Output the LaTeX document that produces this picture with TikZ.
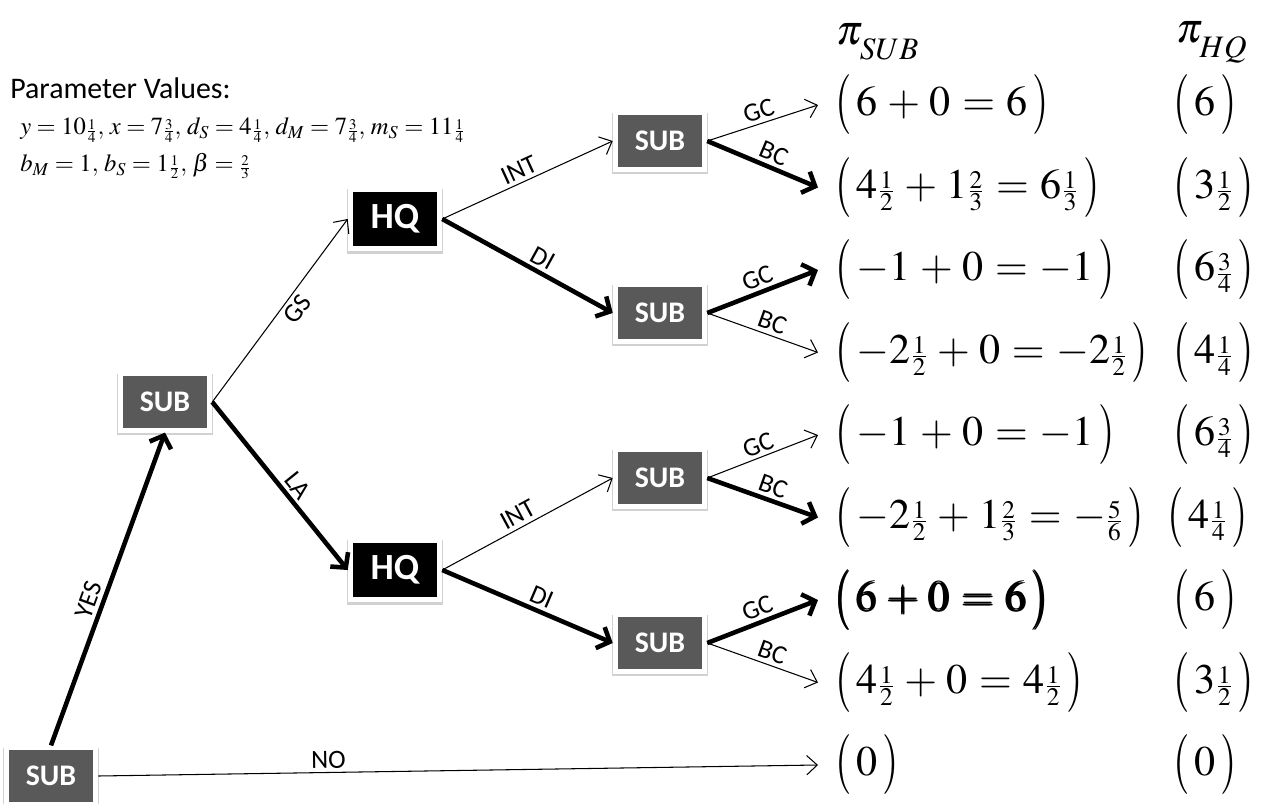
\documentclass[tikz,border=0pt]{standalone}
\usepackage{amsmath}
\usepackage{graphicx}
\usepackage{mathptmx}
\usepackage[no-math]{fontspec}
\newfontfamily\calib{Carlito}
\usetikzlibrary{arrows.meta,shadows}
\definecolor{subgray}{RGB}{89,89,89}
\newcommand{\fr}[2]{\genfrac{}{}{}{3}{#1}{#2}}
\newcommand{\lpar}{\mathopen{\vcenter{\hbox{\scalebox{1}[1.42]{$($}}}}\mkern2mu}
\newcommand{\rpar}{\mkern2mu\mathclose{\vcenter{\hbox{\scalebox{1}[1.42]{$)$}}}}}
\newcommand{\lowsub}[1]{\raisebox{-5pt}{$\scriptstyle #1$}}
\newcommand{\payspacing}{\medmuskip=4mu\relax\thickmuskip=5mu\relax}
\tikzset{
  box/.style={draw=white, line width=2.8pt, minimum width=51pt, minimum height=32pt,
    inner sep=0pt, text=white, font=\calib\bfseries\fontsize{17}{17}\selectfont,
    drop shadow={shadow xshift=0pt, shadow yshift=-1.2pt, shadow scale=1.08, opacity=0.18, fill=black}},
  subbox/.style={box, fill=subgray},
  hqbox/.style={box, fill=black, minimum height=34pt, font=\calib\bfseries\fontsize{21}{21}\selectfont},
  arrthin/.style={line width=0.6pt, -{Straight Barb[length=6pt,width=11pt]}},
  arrbold/.style={line width=2.6pt, -{Straight Barb[length=6pt,width=13pt]}},
  lbl/.style={font=\calib\fontsize{15}{15}\selectfont, sloped, above, inner sep=2pt},
  pay/.style={anchor=west, inner xsep=10pt, inner ysep=2pt,
    font=\fontsize{24}{29}\selectfont, execute at begin node=\payspacing},
  param/.style={anchor=west, inner sep=0pt, font=\fontsize{14}{16}\selectfont},
}
\begin{document}
\begin{tikzpicture}[x=0.02cm, y=-0.02cm]
\useasboundingbox (0,0) rectangle (1274,804);
% header
\node[anchor=west, inner sep=0pt, font=\calib\fontsize{17}{17}\selectfont] (pv) at (10,88) {Parameter Values:};
\node[param] (pl1) at (20,130)
  {$y=10\fr14,\, x=7\fr34,\, d_S=4\fr14,\, d_M=7\fr34,\, m_S=11\fr14$};
\node[param] (pl2) at (20,166)
  {$b_M=1,\, b_S=1\fr12,\, \beta=\fr23$};
\node[inner sep=0pt, font=\fontsize{24}{29}\selectfont] (hs) at (878,42) {$\pi_{\lowsub{SUB}}$};
\node[inner sep=0pt, font=\fontsize{24}{29}\selectfont] (hh) at (1212,42) {$\pi_{\lowsub{HQ}}$};
% decision nodes
\node[subbox] (root) at (51,776) {SUB};
\node[subbox] (sub1) at (165,402) {SUB};
\node[hqbox] (hq1) at (395,219) {HQ};
\node[hqbox] (hq2) at (395,570) {HQ};
\node[subbox] (s1) at (660,141) {SUB};
\node[subbox] (s2) at (660,313) {SUB};
\node[subbox] (s3) at (660,478) {SUB};
\node[subbox] (s4) at (660,643) {SUB};
% payoffs
\node[pay] (p1) at (818,105) {$\lpar6+0=6\rpar$};
\node[pay] (p2) at (818,187.5) {$\lpar4\fr12+1\fr23=6\fr13\rpar$};
\node[pay] (p3) at (818,270) {$\lpar-1+0=-1\rpar$};
\node[pay] (p4) at (818,352.5) {$\lpar-2\fr12+0=-2\fr12\rpar$};
\node[pay] (p5) at (818,435) {$\lpar-1+0=-1\rpar$};
\node[pay] (p6) at (818,517.5) {$\lpar-2\fr12+1\fr23=-\fr56\rpar$};
\node[pay] (p7) at (818,600) {$\pmb{\lpar6+0=6\rpar}$};
\node[pay] (p8) at (818,682.5) {$\lpar4\fr12+0=4\fr12\rpar$};
\node[pay] (p9) at (818,765) {$\lpar0\rpar$};
\node[pay] (q1) at (1156,105) {$\lpar6\rpar$};
\node[pay] (q2) at (1156,187.5) {$\lpar3\fr12\rpar$};
\node[pay] (q3) at (1156,270) {$\lpar6\fr34\rpar$};
\node[pay] (q4) at (1156,352.5) {$\lpar4\fr14\rpar$};
\node[pay] (q5) at (1156,435) {$\lpar6\fr34\rpar$};
\node[pay] (q6) at (1150,517.5) {$\lpar4\fr14\rpar$};
\node[pay] (q7) at (1156,600) {$\lpar6\rpar$};
\node[pay] (q8) at (1156,682.5) {$\lpar3\fr12\rpar$};
\node[pay] (q9) at (1156,765) {$\lpar0\rpar$};
% edges
\draw[arrbold] (root.north) -- node[lbl, pos=0.45] {YES} (sub1.south);
\draw[arrthin] (root.east) -- node[lbl, pos=0.32] {NO} (p9.west);
\draw[arrthin] (sub1.east) -- node[lbl, below, pos=0.55] {GS} (hq1.west);
\draw[arrbold] (sub1.east) -- node[lbl, pos=0.55] {LA} (hq2.west);
\draw[arrthin] (hq1.east) -- node[lbl, pos=0.48] {INT} (s1.west);
\draw[arrbold] (hq1.east) -- node[lbl, pos=0.55] {DI} (s2.west);
\draw[arrthin] (hq2.east) -- node[lbl, pos=0.48] {INT} (s3.west);
\draw[arrbold] (hq2.east) -- node[lbl, pos=0.55] {DI} (s4.west);
\draw[arrthin] (s1.east) -- node[lbl, pos=0.5] {GC} (p1.west);
\draw[arrbold] (s1.east) -- node[lbl, pos=0.55] {BC} (p2.west);
\draw[arrbold] (s2.east) -- node[lbl, pos=0.5] {GC} (p3.west);
\draw[arrthin] (s2.east) -- node[lbl, pos=0.55] {BC} (p4.west);
\draw[arrthin] (s3.east) -- node[lbl, pos=0.5] {GC} (p5.west);
\draw[arrbold] (s3.east) -- node[lbl, pos=0.55] {BC} (p6.west);
\draw[arrbold] (s4.east) -- node[lbl, pos=0.5] {GC} (p7.west);
\draw[arrthin] (s4.east) -- node[lbl, pos=0.55] {BC} (p8.west);
\end{tikzpicture}
\end{document}
